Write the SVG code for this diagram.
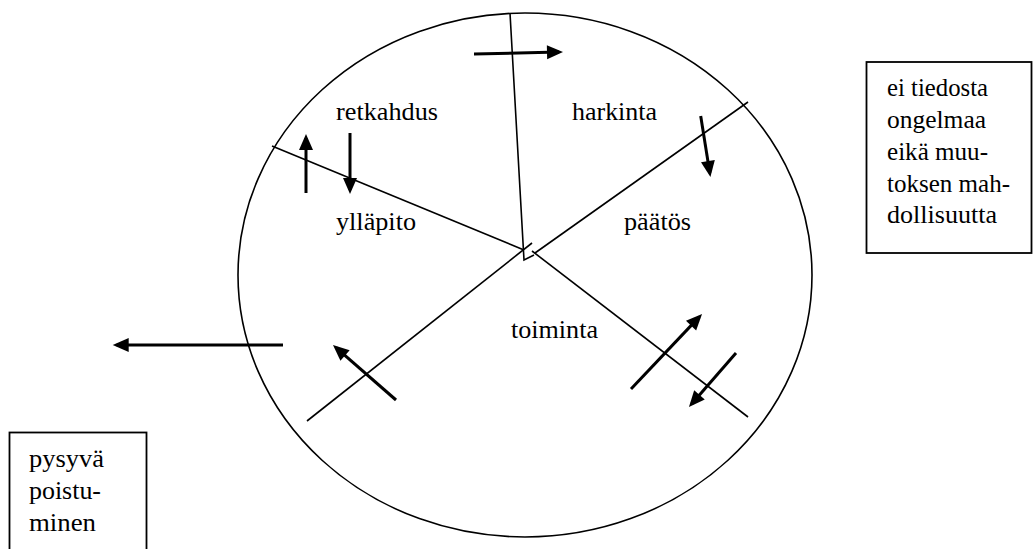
<svg xmlns="http://www.w3.org/2000/svg" width="1034" height="549" viewBox="0 0 1034 549">
  <style>
    .bg { fill: #ffffff; }
    .lbl { font-family: "Liberation Serif", "Times New Roman", serif; font-size: 26px; fill: #000000; }
    .btx { font-family: "Liberation Serif", "Times New Roman", serif; font-size: 25px; fill: #000000; }
    .thin { stroke: #000000; stroke-width: 1.6; fill: none; }
    .box { stroke: #000000; stroke-width: 1.8; fill: #ffffff; }
    .arr { stroke: #000000; stroke-width: 3; fill: none; marker-end: url(#head); }
  </style>
  <defs>
    <marker id="head" markerUnits="userSpaceOnUse" markerWidth="18" markerHeight="16" viewBox="0 -8 17 16" refX="12" refY="0" orient="auto">
      <path d="M0,-7 L16,0 L0,7 Z" fill="#000000"/>
    </marker>
  </defs>
  <rect class="bg" x="0" y="0" width="1034" height="549"/>

  <g id="cycle">
    <ellipse class="thin" cx="525" cy="275" rx="287" ry="262"/>
  </g>

  <g id="connectors">
    <polyline class="thin" points="510,13 524,260 534,255"/>
    <line class="thin" x1="272" y1="146" x2="524" y2="250"/>
    <line class="thin" x1="307" y1="421" x2="532" y2="243"/>
    <line class="thin" x1="535" y1="253" x2="748" y2="102"/>
    <line class="thin" x1="532" y1="251" x2="748" y2="417"/>
    <line class="arr" x1="474" y1="54" x2="559" y2="52.1"/>
    <line class="arr" x1="306" y1="193" x2="306" y2="138"/>
    <line class="arr" x1="350" y1="133" x2="350" y2="190"/>
    <line class="arr" x1="700.7" y1="116" x2="709.8" y2="173"/>
    <line class="arr" x1="396" y1="400" x2="336" y2="347.6"/>
    <line class="arr" x1="631" y1="389" x2="699.3" y2="316.9"/>
    <line class="arr" x1="736" y1="353" x2="691.6" y2="404"/>
    <line class="arr" x1="283" y1="345" x2="116.7" y2="345"/>
  </g>

  <g id="retkahdus"><text class="lbl" x="336" y="120" textLength="102" lengthAdjust="spacingAndGlyphs">retkahdus</text></g>
  <g id="harkinta"><text class="lbl" x="572" y="120" textLength="85" lengthAdjust="spacingAndGlyphs">harkinta</text></g>
  <g id="yllapito"><text class="lbl" x="336" y="230" textLength="80" lengthAdjust="spacingAndGlyphs">ylläpito</text></g>
  <g id="paatos"><text class="lbl" x="624" y="230" textLength="67" lengthAdjust="spacingAndGlyphs">päätös</text></g>
  <g id="toiminta"><text class="lbl" x="511" y="338" textLength="87" lengthAdjust="spacingAndGlyphs">toiminta</text></g>

  <g id="box-esiharkinta">
    <rect class="box" x="866.5" y="62" width="165" height="191"/>
    <text class="btx" x="887" y="96" textLength="101" lengthAdjust="spacingAndGlyphs">ei tiedosta</text>
    <text class="btx" x="887" y="128" textLength="99" lengthAdjust="spacingAndGlyphs">ongelmaa</text>
    <text class="btx" x="887" y="160" textLength="101" lengthAdjust="spacingAndGlyphs">eikä muu-</text>
    <text class="btx" x="887" y="192" textLength="123" lengthAdjust="spacingAndGlyphs">toksen mah-</text>
    <text class="btx" x="887" y="223" textLength="110" lengthAdjust="spacingAndGlyphs">dollisuutta</text>
  </g>

  <g id="box-poistuminen">
    <rect class="box" x="9.5" y="432.5" width="137" height="130"/>
    <text class="btx" x="29" y="467" textLength="75" lengthAdjust="spacingAndGlyphs">pysyvä</text>
    <text class="btx" x="29" y="499" textLength="72" lengthAdjust="spacingAndGlyphs">poistu-</text>
    <text class="btx" x="29" y="531" textLength="67" lengthAdjust="spacingAndGlyphs">minen</text>
  </g>
</svg>
